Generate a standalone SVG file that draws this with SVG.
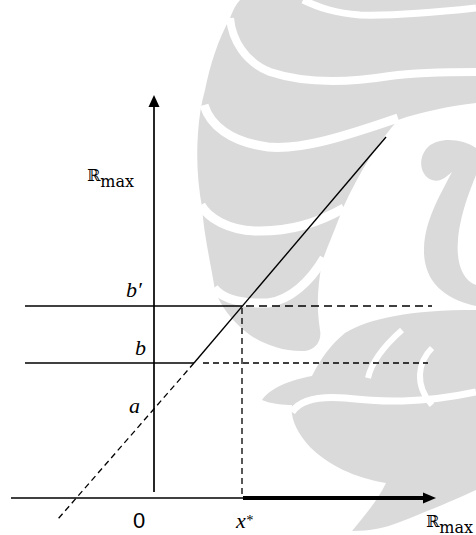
<svg xmlns="http://www.w3.org/2000/svg" width="476" height="535" viewBox="0 0 476 535">
<style>
.wm{fill:#dadada;stroke:none}
.gap{fill:none;stroke:#fff;stroke-linecap:butt}
.ln{stroke:#000;fill:none;stroke-width:1.4}
.ax{stroke:#000;fill:none;stroke-width:1.7}
.d1{stroke:#000;fill:none;stroke-width:1.4;stroke-dasharray:8 5}
.d2{stroke:#000;fill:none;stroke-width:1.3;stroke-dasharray:6 4}
.it{font-family:"Liberation Serif",serif;font-style:italic;font-size:22px;fill:#000}
.ds{font-family:"DejaVu Serif",serif;font-size:16px;fill:#000}
.num{font-family:"Liberation Sans",sans-serif;font-size:22px;fill:#000}
</style>
<rect width="476" height="535" fill="#fff"/>
<g id="watermark">
<path class="wm" d="M240,0 L476,0 L476,103 C450,106 420,112 398,120 C380,140 360,170 342,210 C335,230 328,245 322,262 C318,285 316,305 320,330 C322,340 316,350 305,351 C285,352 265,345 250,335 C232,322 220,305 215,290 C210,260 204,235 202,207 C198,185 196,160 198,133 C199,118 201,104 205,90 C210,65 218,40 230,18 C233,10 236,4 240,0 Z"/>
<path class="gap" stroke-width="7" d="M303,0 C320,8 335,13 360,15 C400,16 440,12 476,8"/>
<path class="gap" stroke-width="8" d="M230,18 C232,40 245,62 270,72 C300,82 340,84 390,76 C420,72 450,72 476,72"/>
<path class="gap" stroke-width="9" d="M204,105 C210,125 230,142 268,147 C300,150 340,138 398,118"/>
<path class="gap" stroke-width="9" d="M201,205 C208,218 228,230 255,231 C290,232 320,222 344,208"/>
<path class="gap" stroke-width="9" d="M214,288 C222,298 240,304 268,303 C290,300 310,282 324,258"/>
<path class="wm" d="M476,148 C462,138 438,137 428,147 C417,158 420,176 432,180 C440,183 446,177 452,172 C440,195 425,220 424,248 C423,278 440,298 476,306 L476,285 C462,280 456,262 458,240 C460,215 470,190 476,175 Z"/>
<path class="wm" d="M262,400 C270,388 290,380 312,376 C320,360 330,345 345,333 C370,318 410,310 476,310 L476,490 C455,500 425,512 400,522 C385,528 370,531 352,531 C365,515 378,500 386,483 C355,478 328,465 310,447 C297,433 290,418 292,405 C285,405 270,404 262,400 Z"/>
<path class="gap" stroke-width="7" d="M292,412 C300,400 320,396 345,398 C380,402 420,404 476,392"/>
<path class="gap" stroke-width="6" d="M402,330 C385,345 372,360 368,378"/>
<path class="gap" stroke-width="6" d="M432,348 C418,362 414,385 432,405"/>
</g>
<g id="connectors">
<line class="ax" x1="154" y1="492" x2="154" y2="105"/>
<polygon points="154,95 148.5,107 159.5,107" fill="#000"/>
<line class="ax" x1="11" y1="498" x2="243" y2="498"/>
<line stroke="#000" stroke-width="4" x1="243" y1="498" x2="424" y2="498"/>
<polygon points="436,498 423,492.5 423,503.5" fill="#000"/>
<line class="ln" x1="25" y1="306" x2="242" y2="306"/>
<line class="ln" x1="25" y1="363" x2="194" y2="363"/>
<line class="d1" x1="246" y1="306" x2="432" y2="306"/>
<line class="d2" x1="203" y1="363" x2="428" y2="363"/>
<line class="d2" x1="242" y1="308" x2="242" y2="497"/>
<line class="ln" x1="194" y1="363" x2="386" y2="137"/>
<line class="d2" x1="194" y1="363" x2="58" y2="519"/>
</g>
<g id="labels">
<text class="ds" x="87" y="181">ℝ<tspan y="187">max</tspan></text>
<text class="it" x="126" y="297">b′</text>
<text class="it" x="135" y="355">b</text>
<text class="it" x="129" y="413">a</text>
<text class="num" x="133" y="528">0</text>
<text class="it" x="236" y="528">x<tspan font-size="14" y="525">*</tspan></text>
<text class="ds" x="426" y="527">ℝ<tspan y="533">max</tspan></text>
</g>
</svg>
